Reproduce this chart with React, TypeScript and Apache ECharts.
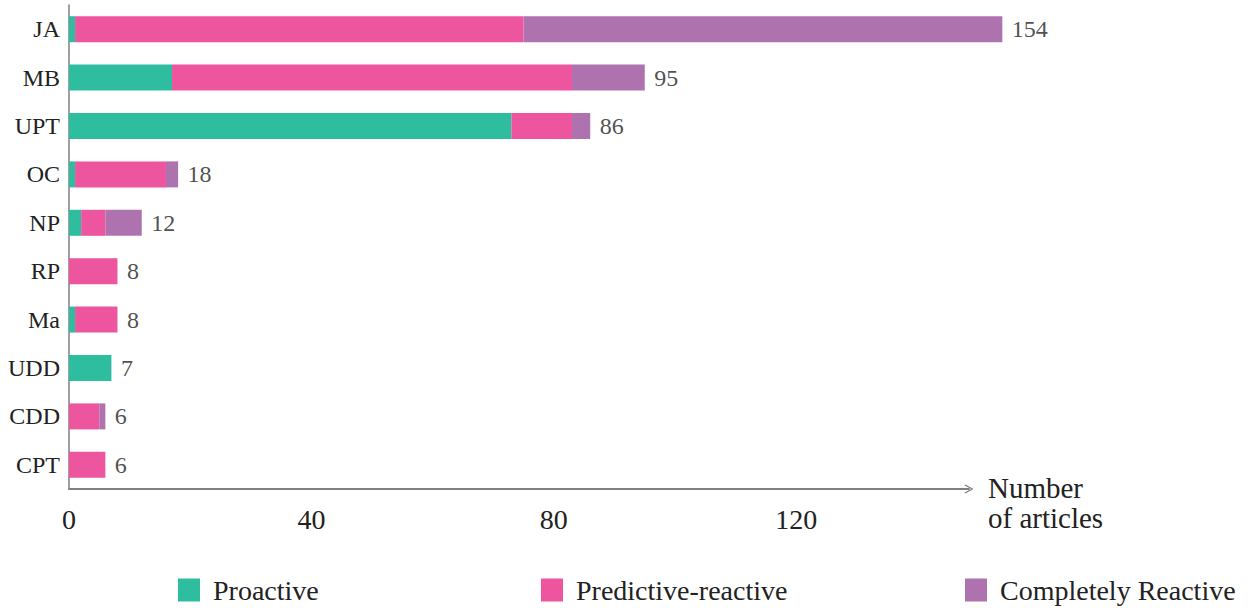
import React, { useEffect, useRef } from "react";
import * as echarts from "echarts";

const categories = ["JA", "MB", "UPT", "OC", "NP", "RP", "Ma", "UDD", "CDD", "CPT"];
const proactive = [1, 17, 73, 1, 2, 0, 1, 7, 0, 0];
const predictiveReactive = [74, 66, 10, 15, 4, 8, 7, 0, 5, 6];
const completelyReactive = [79, 12, 3, 2, 6, 0, 0, 0, 1, 0];
const xTickStep = 40;

const seriesNames = ["Proactive", "Predictive-reactive", "Completely Reactive"];
const colors = ["#2EBE9F", "#EE559F", "#AE72AE"];
const FONT = "Liberation Serif";

export default function App() {
  const ref = useRef<HTMLDivElement>(null);
  useEffect(() => {
    if (!ref.current) return;
    const chart = echarts.init(ref.current, null, { renderer: "svg" });
    const totals = categories.map(
      (_, i) => proactive[i] + predictiveReactive[i] + completelyReactive[i]
    );
    const barBase = {
      type: "bar" as const,
      stack: "total",
      barWidth: 26,
      clip: false,
    };
    const legendCommon = {
      top: 576,
      padding: 0,
      itemWidth: 22,
      itemHeight: 23,
      icon: "rect",
      textStyle: {
        fontFamily: FONT,
        fontSize: 28,
        color: "#222",
        padding: [0, 0, 0, 8],
      },
    };
    chart.setOption({
      animation: false,
      textStyle: { fontFamily: FONT },
      grid: { left: 69, top: 5, width: 900, height: 484, containLabel: false },
      legend: [
        { ...legendCommon, left: 178, data: [seriesNames[0]] },
        { ...legendCommon, left: 541, data: [seriesNames[1]] },
        { ...legendCommon, left: 965, data: [seriesNames[2]] },
      ],
      xAxis: {
        type: "value",
        min: 0,
        max: 148.5,
        interval: xTickStep,
        name: "Number\nof articles",
        nameLocation: "end",
        nameGap: 19,
        nameTextStyle: {
          fontFamily: FONT,
          fontSize: 29,
          color: "#222",
          align: "left",
          verticalAlign: "top",
          lineHeight: 30,
          padding: [-16, 0, 0, 0],
        },
        axisLine: {
          show: true,
          lineStyle: { color: "#808080", width: 1.8 },
          symbol: ["none", "path://M5,0 L10,9 L9,10 L5,2.5 L1,10 L0,9 Z"],
          symbolSize: [9, 10],
          symbolOffset: [0, 0],
        },
        axisTick: { show: false },
        splitLine: { show: false },
        axisLabel: {
          fontFamily: FONT,
          fontSize: 28,
          color: "#222",
          margin: 16,
          showMaxLabel: true,
          formatter: (v: number) => (v % xTickStep === 0 ? String(v) : ""),
        },
      },
      yAxis: {
        type: "category",
        data: categories,
        inverse: true,
        offset: 2,
        axisLine: { show: true, lineStyle: { color: "#808080", width: 1.5 } },
        axisTick: { show: false },
        axisLabel: { fontFamily: FONT, fontSize: 24, color: "#222", margin: 7 },
      },
      series: [
        { ...barBase, name: seriesNames[0], data: proactive, itemStyle: { color: colors[0] } },
        { ...barBase, name: seriesNames[1], data: predictiveReactive, itemStyle: { color: colors[1] } },
        { ...barBase, name: seriesNames[2], data: completelyReactive, itemStyle: { color: colors[2] } },
        {
          type: "scatter",
          name: "total",
          clip: false,
          symbolSize: 1,
          itemStyle: { color: "transparent" },
          data: categories.map((c, i) => [totals[i], c]),
          label: {
            show: true,
            position: "right",
            distance: 9,
            fontFamily: FONT,
            fontSize: 24,
            color: "#222",
            formatter: (p: any) => String(p.value[0]),
          },
        },
      ],
    });
    return () => chart.dispose();
  }, []);
  return (
    <div
      ref={ref}
      style={{ position: "absolute", left: 0, top: 0, width: 1252, height: 608, background: "#fff" }}
    />
  );
}
